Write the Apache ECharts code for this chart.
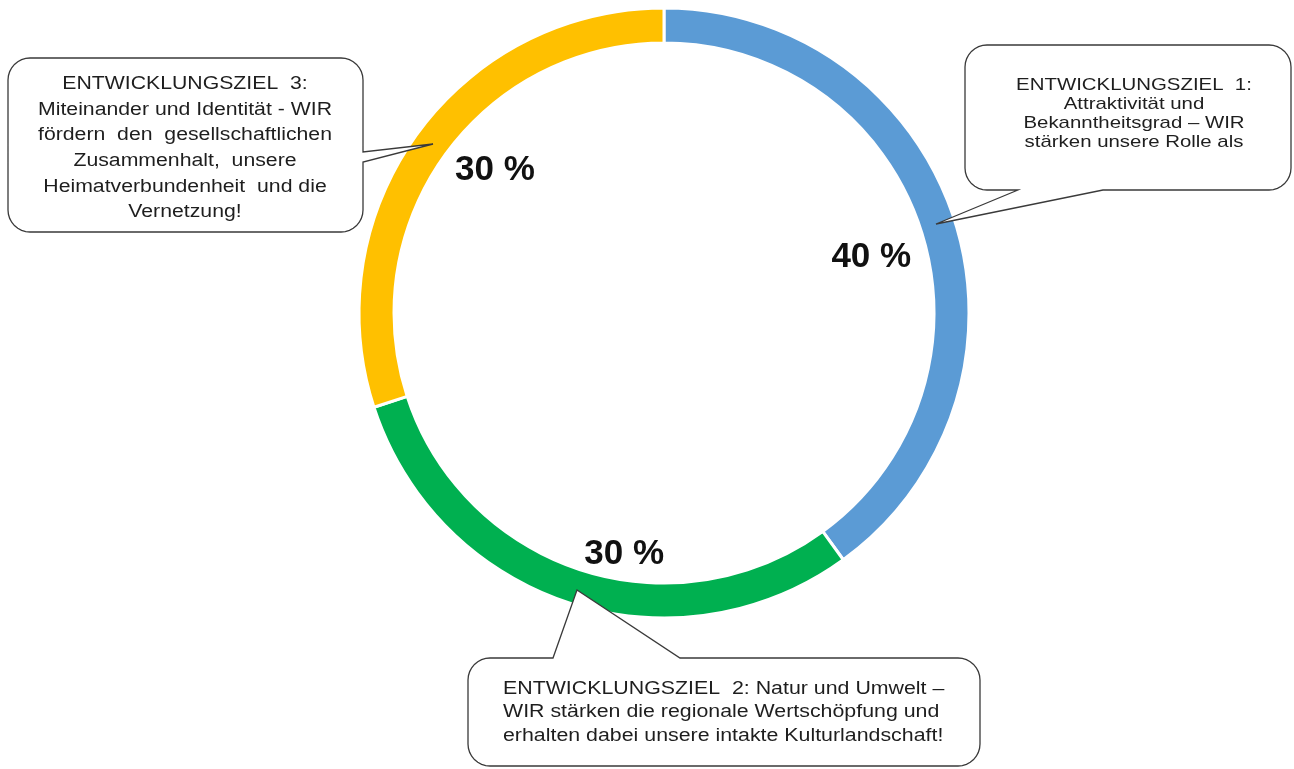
<!DOCTYPE html>
<html>
<head>
<meta charset="utf-8">
<script src="https://cdn.jsdelivr.net/npm/echarts@6/dist/echarts.min.js"></script>
<style>
  html, body { margin: 0; padding: 0; background: #ffffff; }
  #chart { width: 1294px; height: 769px; }
</style>
</head>
<body>
<div id="chart"></div>
<script>
// ---- data ----
const categories = ['ENTWICKLUNGSZIEL 1', 'ENTWICKLUNGSZIEL 2', 'ENTWICKLUNGSZIEL 3'];
const shares = [40, 30, 30];
const sliceColors = ['#5B9BD5', '#00B050', '#FFC000'];
const calloutTexts = [
  'ENTWICKLUNGSZIEL  1:\nAttraktivität und\nBekanntheitsgrad – WIR\nstärken unsere Rolle als',
  'ENTWICKLUNGSZIEL  2: Natur und Umwelt –\nWIR stärken die regionale Wertschöpfung und\nerhalten dabei unsere intakte Kulturlandschaft!',
  'ENTWICKLUNGSZIEL  3:\nMiteinander und Identität - WIR\nfördern  den  gesellschaftlichen\nZusammenhalt,  unsere\nHeimatverbundenheit  und die\nVernetzung!'
];

// ---- layout helpers (styles/positions only) ----
const labelShift = [[-69, 34], [50, -35], [66, 28]];

function corner(pts, cx, cy, r, a0, a1) {
  const n = 8;
  for (let i = 0; i <= n; i++) {
    const a = (a0 + (a1 - a0) * i / n) * Math.PI / 180;
    pts.push([cx + r * Math.cos(a), cy + r * Math.sin(a)]);
  }
}

function roundedBox(x0, y0, x1, y1, r, tail) {
  const pts = [];
  corner(pts, x0 + r, y0 + r, r, 180, 270);
  if (tail.side === 'top') { pts.push([tail.a, y0], [tail.tx, tail.ty], [tail.b, y0]); }
  corner(pts, x1 - r, y0 + r, r, 270, 360);
  if (tail.side === 'right') { pts.push([x1, tail.a], [tail.tx, tail.ty], [x1, tail.b]); }
  corner(pts, x1 - r, y1 - r, r, 0, 90);
  if (tail.side === 'bottom') { pts.push([tail.a, y1], [tail.tx, tail.ty], [tail.b, y1]); }
  corner(pts, x0 + r, y1 - r, r, 90, 180);
  return {
    type: 'polygon',
    z: 100,
    shape: { points: pts },
    style: { fill: '#ffffff', stroke: '#3a3a3a', lineWidth: 1.3 }
  };
}

function calloutText(text, x, y, align, size, lh, sx) {
  return {
    type: 'text',
    z: 101,
    x: x, y: y, scaleX: sx,
    style: {
      text: text, x: 0, y: 0,
      align: align, verticalAlign: 'top',
      fontFamily: '"Liberation Sans", Arial, sans-serif',
      fontSize: size, lineHeight: lh, fill: '#1e1e1e'
    }
  };
}

const chart = echarts.init(document.getElementById('chart'));
chart.setOption({
  backgroundColor: '#ffffff',
  animation: false,
  series: [{
    type: 'pie',
    center: [664, 313],
    radius: [270, 305],
    startAngle: 90,
    clockwise: true,
    silent: true,
    data: categories.map((c, i) => ({
      name: c, value: shares[i], itemStyle: { color: sliceColors[i] }
    })),
    itemStyle: { borderColor: '#ffffff', borderWidth: 3 },
    label: {
      show: true,
      position: 'inside',
      formatter: '{c} %',
      fontFamily: '"Liberation Sans", Arial, sans-serif',
      fontWeight: 'bold',
      fontSize: 35,
      color: '#111111'
    },
    labelLayout: function (p) {
      return { dx: labelShift[p.dataIndex][0], dy: labelShift[p.dataIndex][1] };
    },
    labelLine: { show: false }
  }],
  graphic: [
    roundedBox(8, 58, 363, 232, 22, { side: 'right', a: 152, b: 162, tx: 433, ty: 144 }),
    roundedBox(965, 45, 1291, 190, 22, { side: 'bottom', a: 1103, b: 1018, tx: 936, ty: 224 }),
    roundedBox(468, 658, 980, 766, 22, { side: 'top', a: 553, b: 680, tx: 577, ty: 590 }),
    calloutText(calloutTexts[2], 185, 71, 'center', 18, 25.7, 1.18),
    calloutText(calloutTexts[0], 1134, 76, 'center', 17, 19, 1.2),
    calloutText(calloutTexts[1], 503, 677, 'left', 17.5, 23.5, 1.22)
  ]
});
</script>
</body>
</html>
